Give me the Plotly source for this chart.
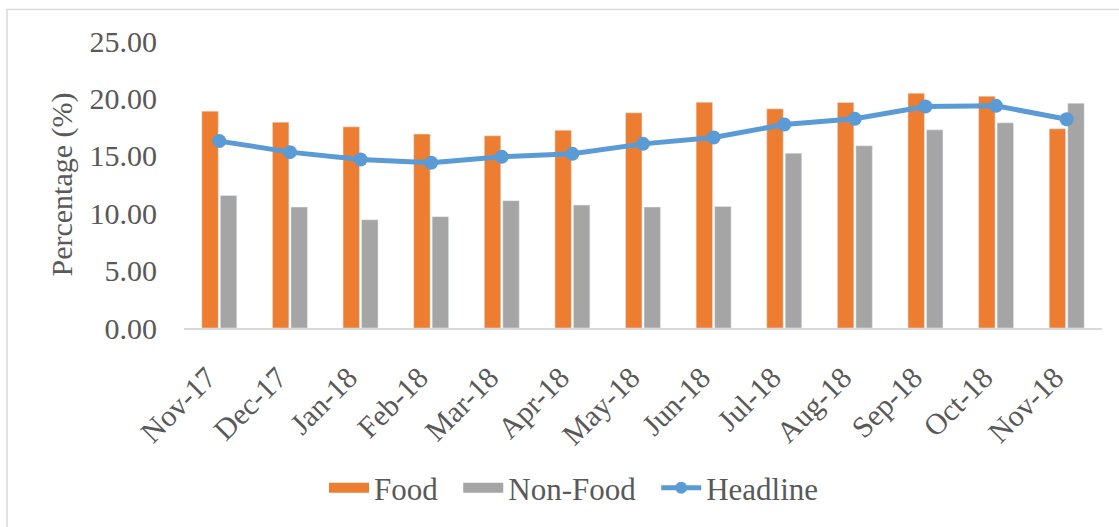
import plotly.graph_objects as go

months = ["Nov-17", "Dec-17", "Jan-18", "Feb-18", "Mar-18", "Apr-18", "May-18",
          "Jun-18", "Jul-18", "Aug-18", "Sep-18", "Oct-18", "Nov-18"]
food = [18.89, 17.93, 17.52, 16.89, 16.74, 17.23, 18.74, 19.67, 19.09, 19.64, 20.45, 20.19, 17.35]
non_food = [11.55, 10.54, 9.43, 9.70, 11.09, 10.71, 10.54, 10.59, 15.23, 15.87, 17.26, 17.87, 19.58]
headline = [16.28, 15.32, 14.68, 14.39, 14.91, 15.17, 16.04, 16.59, 17.72, 18.22, 19.29, 19.35, 18.19]
y_ticks = [0, 5, 10, 15, 20, 25]
y_tick_text = ["0.00", "5.00", "10.00", "15.00", "20.00", "25.00"]

FONT = "Liberation Serif"
TXT = "#595959"
C_FOOD, C_NON, C_HEAD = "#ED7D31", "#A5A5A5", "#5B9BD5"
PAD = "\u00a0\u00a0"

fig = go.Figure()
fig.add_trace(go.Bar(name="Food", x=months, y=food, marker=dict(color=C_FOOD),
                     showlegend=False, legendgroup="food"))
fig.add_trace(go.Bar(name="Non-Food", x=months, y=non_food, marker=dict(color=C_NON),
                     showlegend=False, legendgroup="non"))
fig.add_trace(go.Scatter(name="Headline", x=months, y=headline, mode="lines+markers",
                         line=dict(color=C_HEAD, width=5),
                         marker=dict(color=C_HEAD, size=14), showlegend=False, legendgroup="head"))
# legend-only entries (wide swatches like the original)
fig.add_trace(go.Scatter(name="Food" + PAD, x=[None], y=[None], mode="lines",
                         line=dict(color=C_FOOD, width=17), legendgroup="food"))
fig.add_trace(go.Scatter(name="Non-Food" + PAD, x=[None], y=[None], mode="lines",
                         line=dict(color=C_NON, width=17), legendgroup="non"))
fig.add_trace(go.Scatter(name="Headline", x=[None], y=[None], mode="lines+markers",
                         line=dict(color=C_HEAD, width=5), marker=dict(color=C_HEAD, size=12),
                         legendgroup="head"))

W, H = 1119, 527
L, R, T, B = 184, 17, 41, 199
pw, ph = W - L - R, H - T - B

def px_x(p):
    return (p - L) / pw

def px_y(p):
    return (H - B - p) / ph

fig.update_layout(
    width=W, height=H,
    margin=dict(l=L, r=R, t=T, b=B, autoexpand=False),
    paper_bgcolor="white", plot_bgcolor="white",
    barmode="group", bargap=0.476, bargroupgap=0.11,
    font=dict(family=FONT, size=30, color=TXT),
    showlegend=True,
    legend=dict(orientation="h", x=px_x(574), xanchor="center", y=px_y(488), yanchor="middle",
                font=dict(family=FONT, size=31, color=TXT), traceorder="normal",
                itemwidth=40),
    shapes=[dict(type="rect", xref="paper", yref="paper",
                 x0=px_x(7), x1=px_x(1125), y0=px_y(9.5), y1=px_y(540),
                 line=dict(color="#D9D9D9", width=1.5), fillcolor="rgba(0,0,0,0)", layer="below")],
)
fig.update_xaxes(showline=True, linecolor="#D9D9D9", linewidth=2, showgrid=False, automargin=False,
                 range=[-0.5, len(months) - 0.5],
                 tickangle=-45, ticks="", ticklabelstandoff=18, ticklabelshift=-12,
                 tickfont=dict(family=FONT, size=30, color=TXT))
fig.update_yaxes(range=[0, 25], tickvals=y_ticks, ticktext=y_tick_text, showgrid=False, automargin=False,
                 showline=False, zeroline=False, ticklabelstandoff=26,
                 tickfont=dict(family=FONT, size=30, color=TXT),
                 title=dict(text="Percentage (%)", font=dict(family=FONT, size=30, color=TXT), standoff=8))

fig.write_html("out.html", config={"displayModeBar": False},
               post_script="document.body.style.margin='0';document.body.style.overflow='hidden';")
